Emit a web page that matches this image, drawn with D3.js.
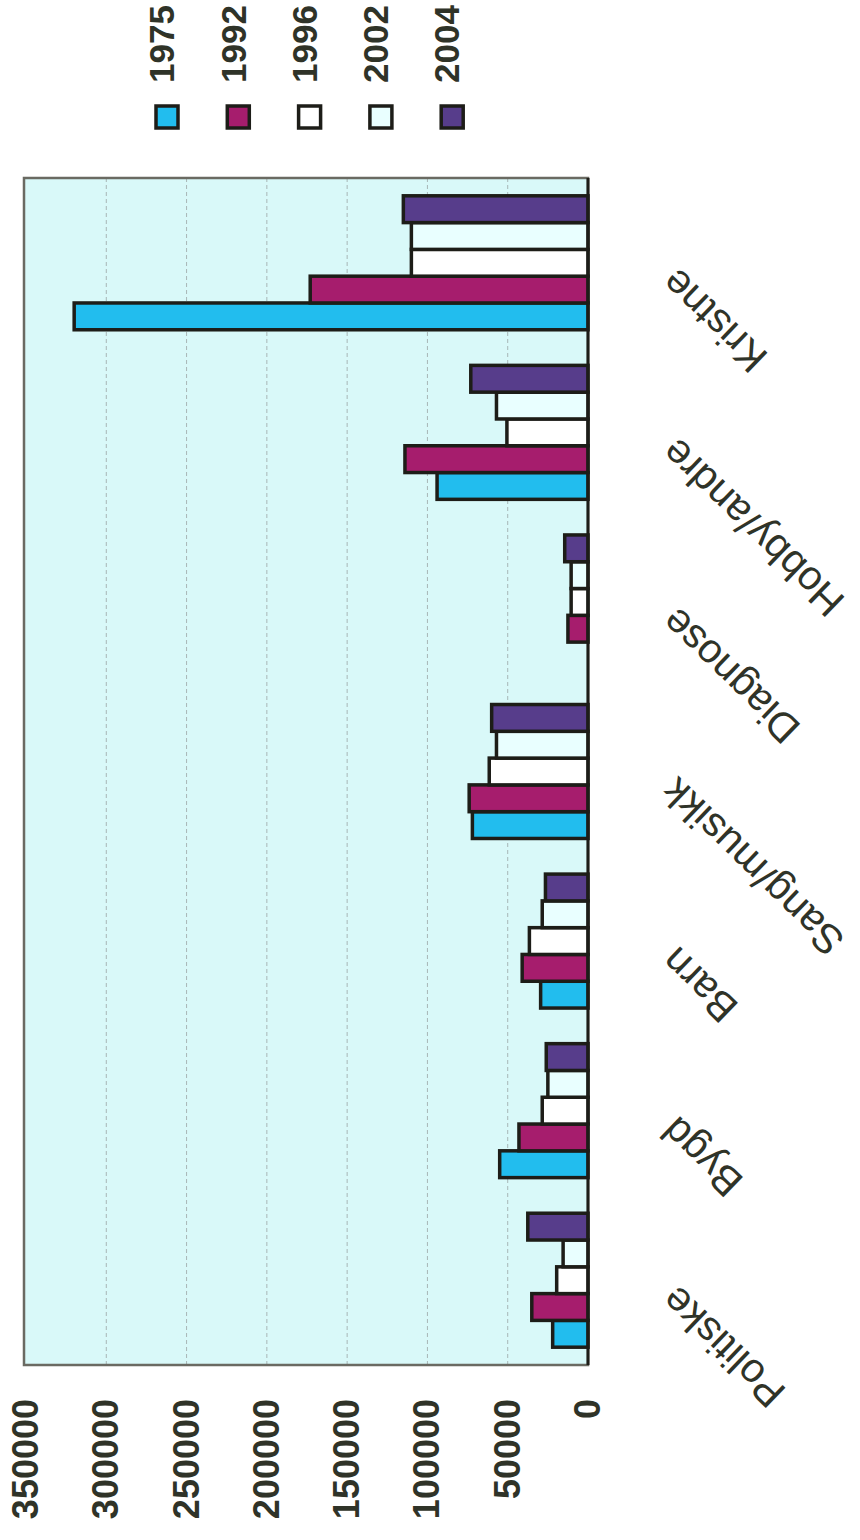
<!DOCTYPE html>
<html>
<head>
<meta charset="utf-8">
<script src="https://cdn.jsdelivr.net/npm/d3@7"></script>
<style>
  body { margin: 0; background: #fff; }
  svg text { font-family: "Liberation Sans", Arial, sans-serif; fill: #2f3328; }
</style>
</head>
<body>
<div id="chart"></div>
<script>
// data
const categories = ["Politiske", "Bygd", "Barn", "Sang/musikk", "Diagnose", "Hobby/andre", "Kristne"];
const years = ["1975", "1992", "1996", "2002", "2004"];
const v1975 = [22000, 55000, 29500, 72000, 0, 94000, 320000];
const v1992 = [35000, 43000, 41000, 74000, 12500, 114000, 173000];
const v1996 = [19500, 28500, 36500, 61500, 10500, 50500, 110000];
const v2002 = [15500, 25000, 28500, 57000, 10500, 57000, 110000];
const v2004 = [37500, 26000, 26500, 60000, 14500, 73000, 115000];
const yTicks = [0, 50000, 100000, 150000, 200000, 250000, 300000, 350000];
const colors = ["#22bdee", "#a61d6d", "#ffffff", "#e9ffff", "#573d8b"];

const series = [v1975, v1992, v1996, v2002, v2004];
const data = categories.map((c, i) => ({ cat: c, vals: years.map((y, j) => ({ year: y, value: series[j][i] })) }));

// the chart is drawn upright and then turned a quarter turn counter-clockwise
const W = 860, H = 1540;
const plot = { left: 175, right: 1362, top: 26, bottom: 588 };

const svg = d3.select("#chart").append("svg")
    .attr("width", W)
    .attr("height", H);

const g = svg.append("g")
    .attr("transform", `translate(0,${H}) rotate(-90)`);

const x0 = d3.scaleBand()
    .domain(categories)
    .range([plot.left, plot.right])
    .paddingInner(0.21)
    .paddingOuter(0.105);
const x1 = d3.scaleBand()
    .domain(years)
    .range([0, x0.bandwidth()]);
const y = d3.scaleLinear()
    .domain([0, 350000])
    .range([plot.bottom, plot.top]);
const color = d3.scaleOrdinal().domain(years).range(colors);

// plot background
g.append("rect")
    .attr("x", plot.left)
    .attr("y", plot.top - 2)
    .attr("width", plot.right - plot.left)
    .attr("height", plot.bottom - plot.top + 2)
    .attr("fill", "#d9f9f9");

// gridlines
g.append("g")
    .selectAll("line")
    .data(yTicks.slice(1, -1))
    .enter()
    .append("line")
    .attr("x1", plot.left)
    .attr("x2", plot.right)
    .attr("y1", d => y(d))
    .attr("y2", d => y(d))
    .attr("stroke", "#a8b6b6")
    .attr("stroke-width", 1)
    .attr("stroke-dasharray", "4,3");

// border
g.append("rect")
    .attr("x", plot.left)
    .attr("y", plot.top - 2)
    .attr("width", plot.right - plot.left)
    .attr("height", plot.bottom - plot.top + 2)
    .attr("fill", "none")
    .attr("stroke", "#6a6a62")
    .attr("stroke-width", 2.5);

// bars
g.append("g")
    .selectAll("g")
    .data(data)
    .enter()
    .append("g")
    .attr("transform", d => `translate(${x0(d.cat)},0)`)
    .selectAll("rect")
    .data(d => d.vals.filter(v => v.value > 0))
    .enter()
    .append("rect")
    .attr("x", d => x1(d.year))
    .attr("y", d => y(d.value))
    .attr("width", x1.bandwidth())
    .attr("height", d => y(0) - y(d.value))
    .attr("fill", d => color(d.year))
    .attr("stroke", "#1d1d18")
    .attr("stroke-width", 3.5);

// category axis (0 line)
g.append("line")
    .attr("x1", plot.left)
    .attr("x2", plot.right)
    .attr("y1", y(0))
    .attr("y2", y(0))
    .attr("stroke", "#1d1d18")
    .attr("stroke-width", 3);

const xAxis = g.append("g")
    .attr("transform", `translate(0,${y(0)})`)
    .call(d3.axisBottom(x0).tickSize(0).tickPadding(0));
xAxis.select(".domain").remove();
xAxis.selectAll("text")
    .attr("font-size", 41)
    .attr("fill", "#34372c")
    .style("text-anchor", "end")
    .attr("dy", "0.35em")
    .attr("transform", "translate(-14,80) rotate(-46)");

// value axis
const yAxis = g.append("g")
    .attr("transform", `translate(${plot.left},0)`)
    .call(d3.axisLeft(y).tickValues(yTicks).tickFormat(d3.format("d")).tickSize(0).tickPadding(34));
yAxis.select(".domain").remove();
yAxis.selectAll("text")
    .attr("font-size", 36)
    .attr("font-weight", "bold")
    .attr("fill", "#2f3328");

// legend
const legend = g.append("g")
    .attr("transform", "translate(1423,0)")
    .selectAll("g")
    .data(years)
    .enter()
    .append("g")
    .attr("transform", (d, i) => `translate(0,${167 + i * 71.3})`);
legend.append("rect")
    .attr("x", -11)
    .attr("y", -11)
    .attr("width", 22)
    .attr("height", 22)
    .attr("fill", d => color(d))
    .attr("stroke", "#1d1d18")
    .attr("stroke-width", 3.5);
legend.append("text")
    .attr("x", 34)
    .attr("y", -5)
    .attr("dy", "0.35em")
    .attr("font-size", 35)
    .attr("font-weight", "bold")
    .attr("fill", "#2f3328")
    .text(d => d);
</script>
</body>
</html>
